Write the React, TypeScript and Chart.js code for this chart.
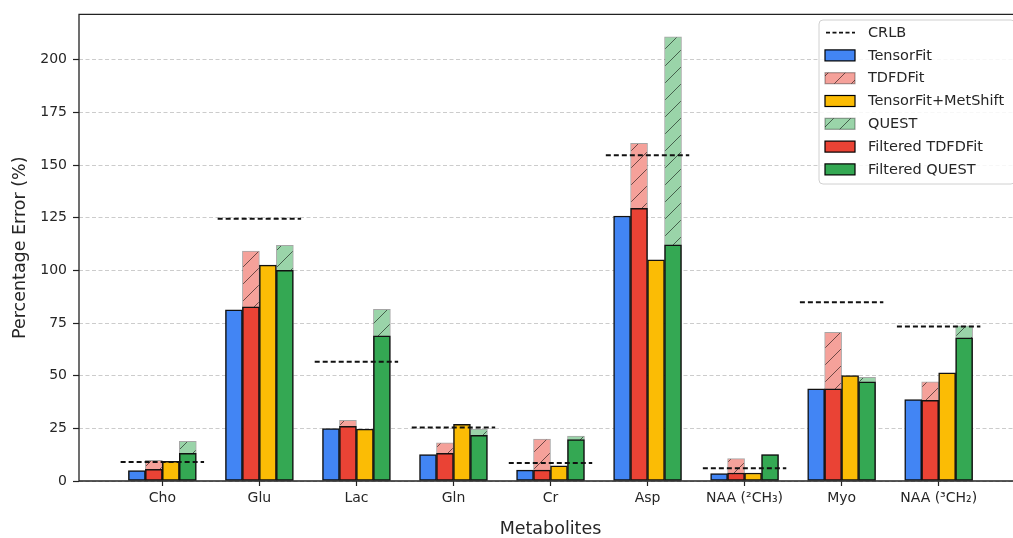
import { useEffect, useRef } from 'react';
import { Chart, registerables } from 'chart.js';

Chart.register(...registerables);

// Metabolites on the x axis
const categories = ['Cho', 'Glu', 'Lac', 'Gln', 'Cr', 'Asp', 'NAA (²CH₃)', 'Myo', 'NAA (³CH₂)'];

// Percentage error per method (%)
const crlb = [9.0, 124.5, 56.6, 25.4, 8.5, 154.6, 6.0, 84.8, 73.3];
const tensorFit = [4.9, 81.3, 24.9, 12.6, 5.2, 125.8, 3.5, 43.8, 38.6];
const tdfdFit = [9.8, 109.2, 28.8, 18.1, 19.9, 160.3, 10.6, 70.6, 47.1];
const filteredTdfdFit = [5.5, 82.7, 26.0, 13.1, 5.2, 129.4, 3.8, 43.8, 38.3];
const tensorFitMetShift = [9.3, 102.5, 24.6, 26.9, 7.2, 105.0, 3.8, 50.0, 51.4];
const quest = [18.8, 111.9, 81.5, 24.6, 21.3, 210.9, 12.5, 49.2, 73.7];
const filteredQuest = [13.1, 100.0, 68.9, 21.7, 19.7, 112.1, 12.5, 47.1, 68.0];

const yTicks = [0, 25, 50, 75, 100, 125, 150, 175, 200];

const FONT = "'DejaVu Sans', sans-serif";
const TEXT = '#262626';
const BAR_W = 0.175;
const SLOT = [-1.5, -0.5, 0.5, 1.5].map((k) => k * BAR_W);
const CRLB_HALF = 0.43;

const COLORS = {
  blue: '#4285F4',
  red: '#EA4335',
  yellow: '#FBBC05',
  green: '#34A853',
  redSoft: '#F5A19A',
  greenSoft: '#9AD4A9',
};

function hatchPattern(bg: string): CanvasPattern | string {
  const s = 17;
  const c = document.createElement('canvas');
  c.width = s;
  c.height = s;
  const g = c.getContext('2d');
  if (!g) return bg;
  g.fillStyle = bg;
  g.fillRect(0, 0, s, s);
  g.strokeStyle = 'rgba(0,0,0,0.55)';
  g.lineWidth = 1;
  g.beginPath();
  for (const d of [-s, 0, s]) {
    g.moveTo(d, s);
    g.lineTo(d + s, 0);
  }
  g.stroke();
  return g.createPattern(c, 'repeat') || bg;
}

const at = (values: number[], off: number) => values.map((v, i) => ({ x: i + off, y: v }));

function crlbSegments(values: number[]) {
  const pts: { x: number; y: number | null }[] = [];
  values.forEach((v, i) => {
    pts.push({ x: i - CRLB_HALF, y: v }, { x: i + CRLB_HALF, y: v }, { x: i + 0.5, y: null });
  });
  return pts;
}

// spines on top of the bars: left, top, bottom, right
const framePlugin = {
  id: 'frame',
  afterDatasetsDraw(chart: any) {
    const { ctx, chartArea: a } = chart;
    ctx.save();
    ctx.strokeStyle = '#222';
    ctx.lineWidth = 1.3;
    ctx.beginPath();
    ctx.moveTo(a.left, a.top);
    ctx.lineTo(a.right, a.top);
    ctx.lineTo(a.right, a.bottom);
    ctx.lineTo(a.left, a.bottom);
    ctx.closePath();
    ctx.stroke();
    ctx.restore();
  },
};

type LegendItem = { label: string; kind: 'line' | 'box'; fill?: any; edge?: string };

function legendPlugin(items: LegendItem[]) {
  return {
    id: 'boxLegend',
    afterDraw(chart: any) {
      const { ctx } = chart;
      const x0 = 819;
      const y0 = 20;
      const w = 196;
      const h = 164;
      ctx.save();
      ctx.beginPath();
      ctx.roundRect(x0, y0, w, h, 4);
      ctx.fillStyle = 'rgba(255,255,255,0.85)';
      ctx.fill();
      ctx.strokeStyle = '#d0d0d0';
      ctx.lineWidth = 1;
      ctx.stroke();
      ctx.font = `14.5px ${FONT}`;
      ctx.textBaseline = 'middle';
      items.forEach((it, i) => {
        const cy = 32.6 + i * 22.8;
        if (it.kind === 'line') {
          ctx.beginPath();
          ctx.setLineDash([4, 2.5]);
          ctx.strokeStyle = '#111';
          ctx.lineWidth = 1.6;
          ctx.moveTo(826, cy);
          ctx.lineTo(855, cy);
          ctx.stroke();
          ctx.setLineDash([]);
        } else {
          ctx.fillStyle = it.fill;
          ctx.fillRect(825, cy - 5.5, 30, 11);
          ctx.strokeStyle = it.edge || '#000';
          ctx.lineWidth = 1.2;
          ctx.strokeRect(825, cy - 5.5, 30, 11);
        }
        ctx.fillStyle = TEXT;
        ctx.fillText(it.label, 868, cy + 0.5);
      });
      ctx.restore();
    },
  };
}

export default function App() {
  const canvasRef = useRef<HTMLCanvasElement | null>(null);

  useEffect(() => {
    const canvas = canvasRef.current;
    if (!canvas) return;

    const redHatch = hatchPattern(COLORS.redSoft);
    const greenHatch = hatchPattern(COLORS.greenSoft);

    const solid = { borderColor: '#111', borderWidth: 1.5, borderSkipped: false, order: 1 };
    const soft = { borderColor: 'rgba(0,0,0,0.35)', borderWidth: 1, borderSkipped: false, order: 2 };

    const chart = new Chart(canvas, {
      type: 'bar',
      data: {
        datasets: [
          { label: 'TensorFit', data: at(tensorFit, SLOT[0]), backgroundColor: COLORS.blue, ...solid },
          { label: 'TDFDFit', data: at(tdfdFit, SLOT[1]), backgroundColor: redHatch, ...soft },
          { label: 'Filtered TDFDFit', data: at(filteredTdfdFit, SLOT[1]), backgroundColor: COLORS.red, ...solid },
          { label: 'TensorFit+MetShift', data: at(tensorFitMetShift, SLOT[2]), backgroundColor: COLORS.yellow, ...solid },
          { label: 'QUEST', data: at(quest, SLOT[3]), backgroundColor: greenHatch, ...soft },
          { label: 'Filtered QUEST', data: at(filteredQuest, SLOT[3]), backgroundColor: COLORS.green, ...solid },
          {
            type: 'line',
            label: 'CRLB',
            data: crlbSegments(crlb),
            borderColor: '#111',
            borderWidth: 2,
            borderDash: [5, 3],
            pointRadius: 0,
            spanGaps: false,
            fill: false,
            order: 0,
          } as any,
        ],
      },
      options: {
        responsive: false,
        animation: false,
        events: [],
        datasets: { bar: { grouped: false, barPercentage: 1, categoryPercentage: 1 } },
        layout: { padding: { top: 12, right: 18, left: 0, bottom: 0 } },
        plugins: { legend: { display: false }, tooltip: { enabled: false } },
        scales: {
          x: {
            type: 'linear',
            offset: false,
            bounds: 'data',
            min: -0.859,
            max: 8.859,
            afterBuildTicks: (s: any) => {
              s.ticks = categories.map((_, i) => ({ value: i }));
            },
            afterFit: (s: any) => {
              s.height = 57;
            },
            grid: {
              display: true,
              offset: false,
              drawOnChartArea: false,
              drawTicks: true,
              tickLength: 5,
              tickColor: '#222',
              tickWidth: 1.2,
            },
            border: { display: false },
            ticks: {
              autoSkip: false,
              maxRotation: 0,
              padding: 4,
              color: TEXT,
              font: { family: FONT, size: 14 },
              callback: (v: any) => categories[Number(v)] ?? '',
            },
            title: {
              display: true,
              text: 'Metabolites',
              color: TEXT,
              font: { family: FONT, size: 17.5, lineHeight: 1 },
              padding: 0,
            },
          },
          y: {
            min: 0,
            max: 221.5,
            afterBuildTicks: (s: any) => {
              s.ticks = yTicks.map((v) => ({ value: v }));
            },
            afterFit: (s: any) => {
              s.width = 79;
            },
            grid: {
              color: 'rgba(170,170,170,0.6)',
              lineWidth: 1,
              drawTicks: true,
              tickLength: 6,
              tickColor: '#222',
              tickWidth: 1.2,
            },
            border: { display: false, dash: [4, 2.5] },
            ticks: {
              padding: 6,
              color: TEXT,
              font: { family: FONT, size: 14 },
            },
            title: {
              display: true,
              text: 'Percentage Error (%)',
              color: TEXT,
              font: { family: FONT, size: 17.5, lineHeight: 1 },
              padding: { top: 12, bottom: 0 },
            },
          },
        },
      } as any,
      plugins: [
        framePlugin,
        legendPlugin([
          { label: 'CRLB', kind: 'line' },
          { label: 'TensorFit', kind: 'box', fill: COLORS.blue },
          { label: 'TDFDFit', kind: 'box', fill: redHatch, edge: 'rgba(0,0,0,0.35)' },
          { label: 'TensorFit+MetShift', kind: 'box', fill: COLORS.yellow },
          { label: 'QUEST', kind: 'box', fill: greenHatch, edge: 'rgba(0,0,0,0.35)' },
          { label: 'Filtered TDFDFit', kind: 'box', fill: COLORS.red },
          { label: 'Filtered QUEST', kind: 'box', fill: COLORS.green },
        ]),
      ],
    });

    return () => chart.destroy();
  }, []);

  return (
    <div style={{ position: 'absolute', left: 0, top: 0, width: 1013, height: 538, overflow: 'hidden', background: '#fff' }}>
      <canvas ref={canvasRef} width={1040} height={538} style={{ display: 'block' }} />
    </div>
  );
}
